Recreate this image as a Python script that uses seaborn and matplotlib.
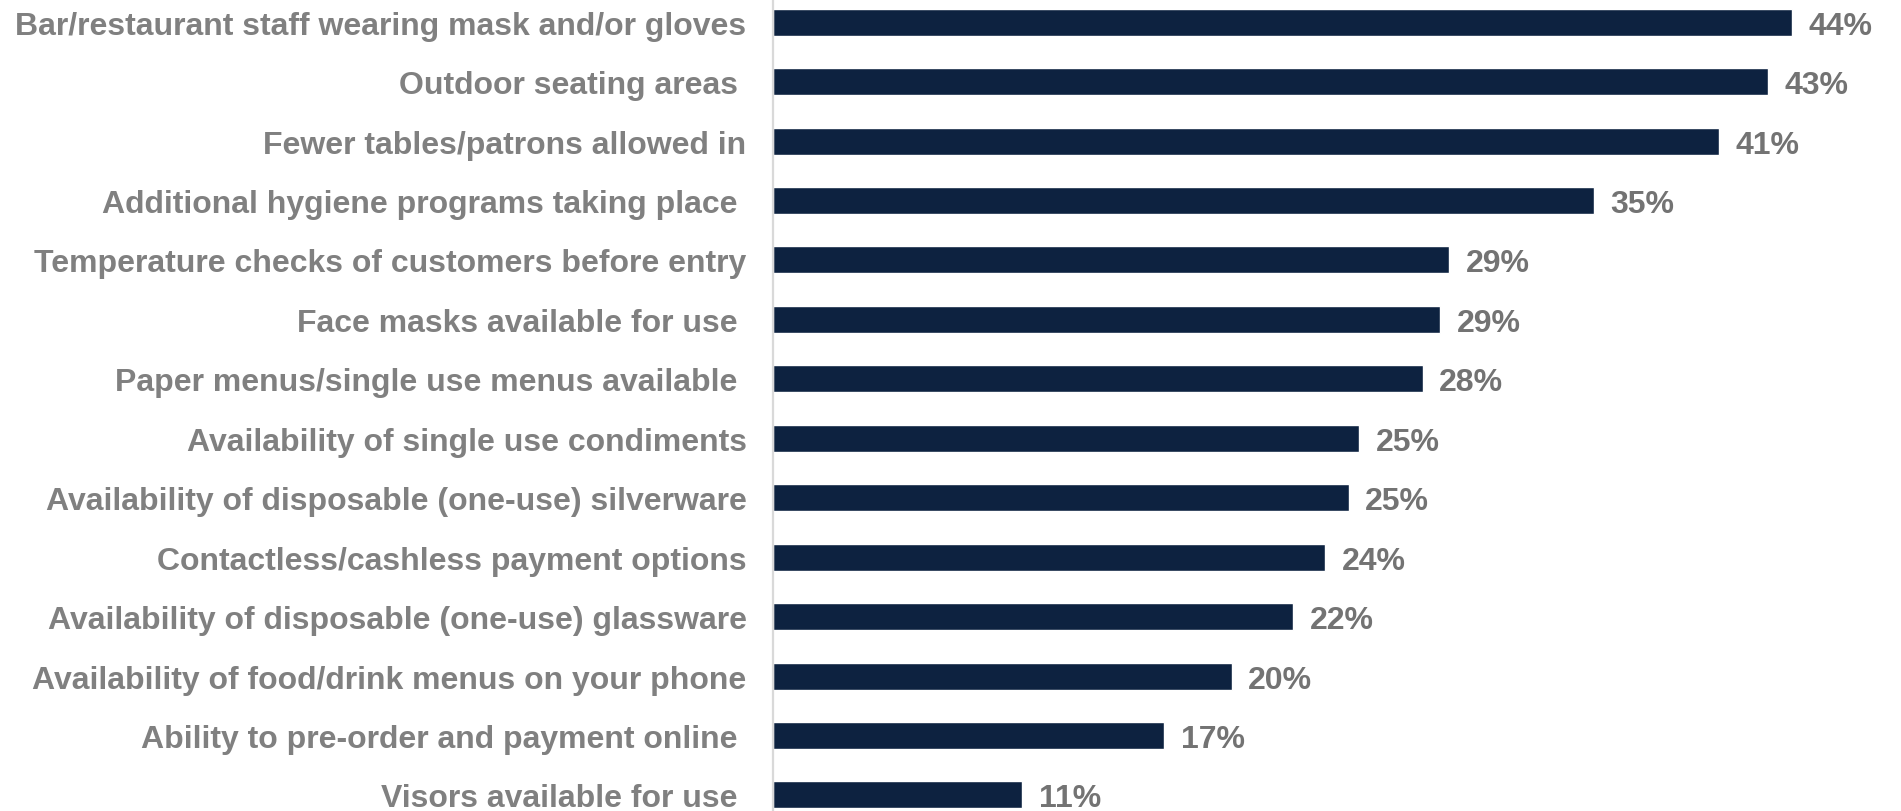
import matplotlib
matplotlib.use("Agg")
import matplotlib.pyplot as plt
import seaborn as sns
import pandas as pd

categories = [
    "Bar/restaurant staff wearing mask and/or gloves",
    "Outdoor seating areas ",
    "Fewer tables/patrons allowed in",
    "Additional hygiene programs taking place ",
    "Temperature checks of customers before entry",
    "Face masks available for use ",
    "Paper menus/single use menus available ",
    "Availability of single use condiments",
    "Availability of disposable (one-use) silverware",
    "Contactless/cashless payment options",
    "Availability of disposable (one-use) glassware",
    "Availability of food/drink menus on your phone",
    "Ability to pre-order and payment online ",
    "Visors available for use ",
]
shares = [44.0, 42.95, 40.85, 35.45, 29.2, 28.8, 28.05, 25.3, 24.85, 23.85, 22.45, 19.8, 16.9, 10.75]
value_labels = [f"{round(v)}%" for v in shares]

df = pd.DataFrame({"measure": categories, "share": shares})

sns.set_theme(style="white")
plt.rcParams["font.family"] = ["Liberation Sans", "DejaVu Sans"]

fig = plt.figure(figsize=(19.01, 8.12), dpi=100)
ax = fig.add_axes([773 / 1901, 0, 1 - 773 / 1901, 1])

sns.barplot(data=df, y="measure", x="share", orient="h", color="#0d2240",
            width=0.455, saturation=1, ax=ax)

ax.set_xlim(0, 48.7)
ax.set_ylim(13.27, -0.39)
ax.set_xlabel("")
ax.set_ylabel("")
ax.set_xticks([])

for side in ["top", "right", "bottom"]:
    ax.spines[side].set_visible(False)
ax.spines["left"].set_color("#d9d9d9")
ax.spines["left"].set_linewidth(1.6)

ax.tick_params(axis="y", length=0, pad=19)
for lbl in ax.get_yticklabels():
    lbl.set_fontsize(23)
    lbl.set_fontweight("bold")
    lbl.set_color("#808080")
    lbl.set_verticalalignment("center_baseline")

texts = ax.bar_label(ax.containers[0], labels=value_labels, padding=12,
                     fontsize=23, fontweight="bold", color="#737373")
for t in texts:
    t.set_verticalalignment("center_baseline")

fig.savefig("out.png", dpi=100)
